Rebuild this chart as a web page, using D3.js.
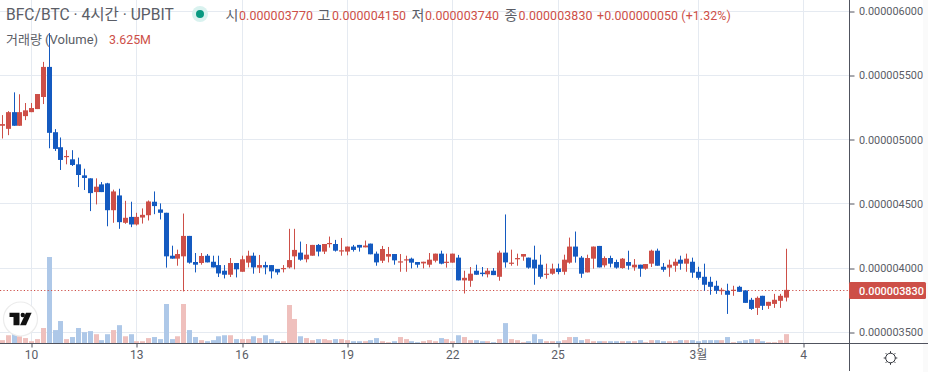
<!DOCTYPE html>
<html lang="ko">
<head>
<meta charset="utf-8">
<script src="https://cdn.jsdelivr.net/npm/d3@7"></script>
<style>
html,body{margin:0;padding:0;background:#fff;overflow:hidden}
svg{display:block}
text{font-family:"Roboto","Noto Sans CJK KR",sans-serif}
</style>
</head>
<body>
<svg id="chart" width="928" height="372"></svg>
<script>
// prices in units of 0.000000001 BTC, volumes in millions
const opens=[5107,5083,5213,5107,5182,5213,5237,5331,5565,5057,4940,4865,4846,4807,4721,4698,4591,4651,4659,4450,4565,4352,4398,4339,4393,4411,4516,4456,4430,4096,4073,4091,4250,4047,4039,4096,4049,4023,3979,3948,4039,3971,4042,4096,4003,4023,4023,3992,3992,4005,4091,4120,4068,4096,4180,4128,4187,4187,4130,4128,4167,4180,4161,4190,4112,4057,4089,4109,4044,4060,4073,4047,4036,4026,4057,4112,4044,4042,4081,3904,3901,3979,3964,3951,3979,3932,4120,4034,4068,4089,4081,4065,4026,3948,3956,3997,3971,4042,4167,4081,3966,4073,4172,4021,4078,4047,4000,4047,4005,4026,3995,4034,4135,4010,4003,4018,4065,4034,4049,3971,3932,3893,3862,3820,3823,3823,3854,3826,3753,3690,3784,3706,3721,3745,3770];
const highs=[5190,5221,5367,5352,5284,5284,5354,5604,5828,5081,5016,4917,4917,4859,4773,4698,4698,4669,4663,4610,4617,4523,4516,4430,4464,4526,4596,4503,4430,4174,4143,4424,4250,4117,4117,4109,4096,4096,4023,4078,4039,4096,4135,4120,4102,4049,4023,3992,4023,4305,4305,4206,4187,4180,4187,4187,4245,4219,4234,4167,4180,4180,4214,4190,4128,4172,4164,4109,4109,4096,4081,4047,4049,4117,4112,4135,4112,4112,4102,3979,4008,4026,4008,4000,4000,4135,4417,4143,4112,4109,4081,4174,4104,4034,4034,4034,4104,4237,4284,4094,4104,4167,4172,4091,4096,4065,4078,4135,4070,4026,4031,4143,4151,4039,4065,4073,4096,4112,4081,4010,4034,3932,3901,3846,3878,3862,3862,3826,3768,3779,3784,3737,3799,3799,4150];
const lows=[5008,5034,5107,5107,5151,5213,5237,5276,4932,4911,4763,4807,4794,4630,4607,4443,4495,4591,4325,4352,4305,4344,4318,4331,4346,4370,4419,4378,4003,4073,4018,3818,4034,3966,4026,4044,4005,3930,3919,3930,3927,3971,4005,3956,3961,3951,3919,3948,3966,3997,3990,4057,4044,4096,4091,4109,4159,4128,4096,4099,4128,4128,4161,4107,4018,4039,4044,4026,3971,3971,3997,4003,3997,4005,4044,4029,4003,4042,3904,3802,3854,3948,3935,3927,3945,3901,4003,4018,4018,4057,3995,3870,3917,3917,3948,3951,3948,4034,4042,3924,3966,3995,4005,4005,4005,3995,3995,3987,3979,3932,3987,4008,4018,3971,3932,3971,3987,3971,3924,3909,3823,3792,3799,3792,3643,3784,3815,3729,3674,3635,3674,3682,3690,3690,3740];
const closes=[5120,5213,5107,5213,5227,5245,5354,5565,5052,4927,4841,4872,4802,4724,4701,4583,4633,4591,4450,4596,4357,4391,4339,4398,4414,4518,4482,4430,4091,4073,4109,4250,4042,4026,4094,4044,4005,3958,3948,4039,3990,4068,4096,4005,4023,4005,3974,3966,4000,4062,4141,4065,4104,4180,4128,4187,4195,4135,4138,4167,4141,4159,4175,4107,4044,4148,4109,4060,4052,4068,4042,4026,4049,4065,4112,4034,4049,4112,3904,3924,3956,3948,3953,3979,3945,4120,4044,4042,4078,4109,4003,3997,3932,3956,3995,3969,4065,4167,4089,3956,4078,4167,4005,4078,4034,4003,4073,4018,4026,3995,4031,4135,4018,3987,4026,4049,4034,4073,3964,3924,3870,3854,3823,3831,3792,3831,3815,3729,3682,3768,3706,3737,3753,3784,3830];
const volumes=[1.3,3.2,3.9,2.8,2.1,0.9,1.7,6.0,33.5,5.2,8.7,1.7,2.5,6.0,4.4,4.8,3.6,1.3,3.6,5.2,7.1,2.8,3.6,0.9,0.9,2.1,2.5,1.7,15.3,1.7,2.8,15.3,5.2,2.5,1.3,0.9,1.3,2.8,3.2,3.2,1.7,1.7,1.7,2.8,2.1,3.2,1.7,0.9,0.9,14.9,9.5,2.8,2.1,1.3,1.7,1.7,1.3,1.7,1.7,1.3,0.9,0.9,0.9,1.3,2.1,0.9,0.5,0.9,2.5,1.7,0.9,0.5,0.9,1.3,0.9,2.1,1.7,0.9,3.2,2.5,1.3,1.3,0.9,0.9,0.5,1.7,7.9,1.7,1.3,0.5,0.9,3.6,1.7,0.9,0.9,0.9,1.3,2.5,2.5,1.3,1.7,0.9,0.9,0.9,0.9,0.9,0.9,0.9,0.9,1.3,0.5,1.3,1.3,0.9,0.9,0.9,1.3,1.3,1.3,0.9,1.3,1.3,1.3,1.3,2.5,0.5,0.9,1.3,1.7,1.7,0.9,0.5,0.5,1.3,3.625];
const priceTicks=[3500,4000,4500,5000,5500,6000];
const timeTickBars=[5,23,41,59,77,95,119,137];
const timeTickLabels=["10","13","16","19","22","25","3월","4"];
const lastPrice=3830;
const symbolText="BFC/BTC · 4시간 · UPBIT";
const ohlcKeys=["시","고","저","종"];
const ohlcVals=["0.000003770","0.000004150","0.000003740","0.000003830"];
const changeText="+0.000000050 (+1.32%)";
const volLabel="거래량 (Volume)";
const volText="3.625M";

const RED="#cd4f48",BLUE="#145ac0",RED_V="#efc0bd",BLUE_V="#aec8e8",GRID="#e5eaf1",AX="#50535e",TXT="#5a5d66";
const AXX=849.5,AXY=343.5;
const svg=d3.select("#chart");
const fmt=v=>(v*1e-9).toFixed(9);
const x=d3.scaleLinear().domain([0,134]).range([2.4,786.3]);
const y=d3.scaleLinear().domain([3500,6000]).range([332.3,11]);
const yVol=d3.scaleLinear().domain([0,33.5]).range([AXY,257]);
const snap=v=>Math.round(v-0.5)+0.5;
const idx=d3.range(opens.length);
const up=i=>closes[i]>=opens[i];

// background strip right of the price labels
svg.append("rect").attr("x",923).attr("y",0).attr("width",5).attr("height",372).attr("fill","#fafafa");

// grid
svg.append("g").selectAll("line").data(timeTickBars).join("line")
  .attr("x1",d=>snap(x(d))).attr("x2",d=>snap(x(d))).attr("y1",0).attr("y2",AXY).attr("stroke",GRID);
svg.append("g").selectAll("line").data(priceTicks).join("line")
  .attr("x1",0).attr("x2",AXX).attr("y1",d=>snap(y(d))).attr("y2",d=>snap(y(d))).attr("stroke",GRID);

// volume
svg.append("g").selectAll("rect").data(idx).join("rect")
  .attr("x",i=>Math.round(x(i)-2.5)).attr("width",5)
  .attr("y",i=>yVol(volumes[i])).attr("height",i=>AXY-yVol(volumes[i]))
  .attr("fill",i=>up(i)?RED_V:BLUE_V);

// last price line
const lastY=Math.round(y(lastPrice))+0.5;
svg.append("line").attr("x1",0).attr("x2",AXX).attr("y1",lastY).attr("y2",lastY)
  .attr("stroke",RED).attr("stroke-dasharray","1.2 2.2");

// candles
const c=svg.append("g");
c.selectAll("line").data(idx).join("line")
  .attr("x1",i=>snap(x(i))).attr("x2",i=>snap(x(i)))
  .attr("y1",i=>y(highs[i])).attr("y2",i=>y(lows[i]))
  .attr("stroke",i=>up(i)?RED:BLUE);
c.selectAll("rect").data(idx).join("rect")
  .attr("x",i=>Math.round(x(i)-2.5)).attr("width",5)
  .attr("y",i=>y(Math.max(opens[i],closes[i])))
  .attr("height",i=>Math.max(1.2,Math.abs(y(opens[i])-y(closes[i]))))
  .attr("fill",i=>up(i)?RED:BLUE);

// price axis
const gy=svg.append("g").attr("transform",`translate(${AXX},0)`)
  .call(d3.axisRight(y).tickValues(priceTicks).tickFormat(fmt).tickSize(5).tickPadding(4.5));
gy.select(".domain").remove();
gy.selectAll("line").attr("stroke",AX).attr("y1",0).attr("y2",0).attr("transform",d=>`translate(0,${snap(y(d))-y(d)})`);
gy.selectAll("text").attr("font-size",10.9).attr("fill",TXT).attr("font-family","Roboto");

// time axis
const gx=svg.append("g").attr("transform",`translate(0,${AXY})`)
  .call(d3.axisBottom(x).tickValues(timeTickBars).tickFormat((d,i)=>timeTickLabels[i]).tickSize(4).tickPadding(3));
gx.select(".domain").remove();
gx.selectAll("line").attr("stroke",AX).attr("transform",d=>`translate(${snap(x(d))-x(d)},0)`);
gx.selectAll("text").attr("font-size",12).attr("fill",TXT).attr("dx",-0.7).attr("font-family",'Roboto,"Noto Sans CJK KR"');

// axis borders
svg.append("line").attr("x1",0).attr("x2",928).attr("y1",AXY).attr("y2",AXY).attr("stroke",AX);
svg.append("line").attr("x1",AXX).attr("x2",AXX).attr("y1",0).attr("y2",371).attr("stroke",AX);

// last price label
svg.append("rect").attr("x",849).attr("y",282).attr("width",77).attr("height",17).attr("rx",1.5).attr("fill",RED);
svg.append("text").attr("x",859).attr("y",294.5).attr("font-size",10.9).attr("font-weight",500)
  .attr("fill","#fff").text(fmt(lastPrice));

// legend
svg.append("text").attr("x",6).attr("y",20).attr("font-size",15.6).attr("fill",TXT).text(symbolText);
svg.append("circle").attr("cx",200).attr("cy",14).attr("r",8).attr("fill","#d9f2ef");
svg.append("circle").attr("cx",200).attr("cy",14).attr("r",4).attr("fill","#089981");
const keyX=[225.5,317.5,411.5,504.5],valX=[239,332,425,518.5];
ohlcKeys.forEach((k,i)=>{
  svg.append("text").attr("x",keyX[i]).attr("y",19.5).attr("font-size",14).attr("fill",TXT).text(k);
  svg.append("text").attr("x",valX[i]).attr("y",19.5).attr("font-size",12.4).attr("fill",RED).attr("letter-spacing",0.1).text(ohlcVals[i]);
});
svg.append("text").attr("x",597).attr("y",19.5).attr("font-size",12.4).attr("fill",RED).attr("letter-spacing",0.1).text(changeText);
svg.append("text").attr("x",6).attr("y",44).attr("font-size",13).attr("fill",TXT).text(volLabel);
svg.append("text").attr("x",109).attr("y",44).attr("font-size",12.4).attr("fill",RED).text(volText);

// logo
svg.append("circle").attr("cx",20.5).attr("cy",319).attr("r",17).attr("fill","#fff").attr("stroke","#ececec").attr("stroke-width",1.2);
svg.append("path").attr("d","M9.5 312.8H19.5V325.3H13.5V317H9.5Z").attr("fill","#111");
svg.append("circle").attr("cx",22.8).attr("cy",315).attr("r",2.2).attr("fill","#111");
svg.append("path").attr("d","M26 312.8H31.6L26 325.3H20Z").attr("fill","#111");

// settings icon
const gear=svg.append("g").attr("transform","translate(890.5,358)").attr("stroke","#30333a").attr("fill","none");
gear.append("circle").attr("r",4.8);
d3.range(8).forEach(k=>{
  const a=k*Math.PI/4;
  gear.append("line").attr("x1",4.8*Math.cos(a)).attr("y1",4.8*Math.sin(a)).attr("x2",6.8*Math.cos(a)).attr("y2",6.8*Math.sin(a));
});
</script>
</body>
</html>
